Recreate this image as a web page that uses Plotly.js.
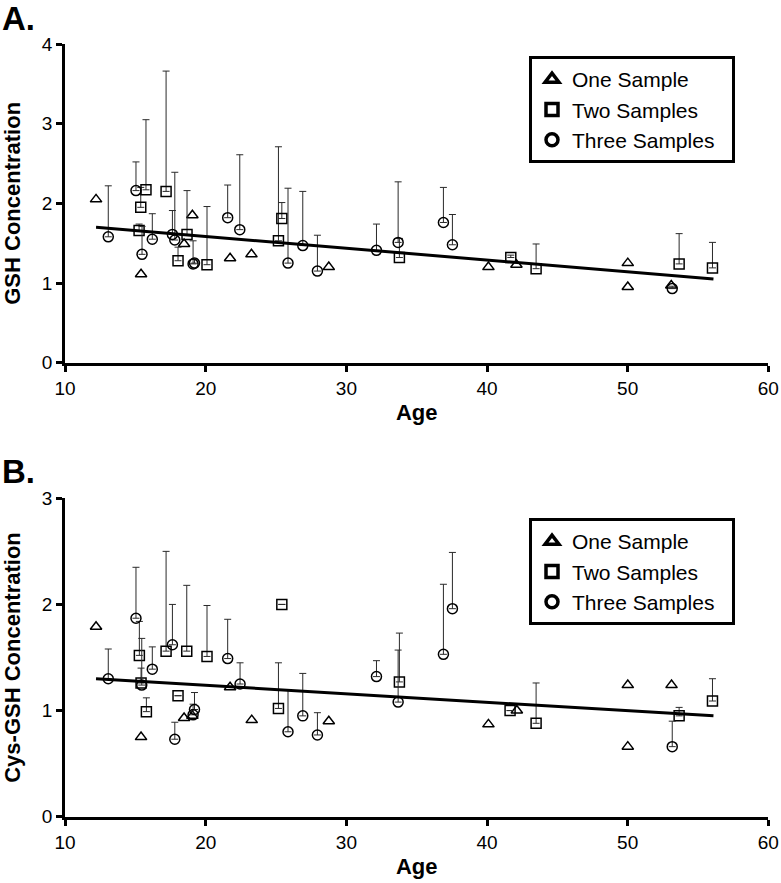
<!DOCTYPE html>
<html>
<head>
<meta charset="utf-8">
<script src="https://cdn.plot.ly/plotly-3.0.1.min.js"></script>
<style>html,body{margin:0;padding:0;background:#fff}#chart{width:781px;height:883px}</style>
</head>
<body>
<div id="chart"></div>
<script>
// ---------- Panel A: GSH concentration ----------
const gshOneAge   = [12.2, 15.4, 18.46, 19.05, 21.73, 23.25, 28.75, 40.1, 42.09, 50.01, 50.01, 53.1];
const gshOneVal   = [2.05, 1.11, 1.49, 1.85, 1.31, 1.36, 1.20, 1.20, 1.23, 1.25, 0.95, 0.97];

const gshTwoAge   = [15.26, 15.38, 15.75, 17.18, 18.03, 18.67, 20.09, 25.17, 25.41, 33.77, 41.69, 43.49, 53.66, 56.03];
const gshTwoVal   = [1.66, 1.95, 2.17, 2.15, 1.28, 1.61, 1.23, 1.53, 1.81, 1.32, 1.32, 1.18, 1.24, 1.19];
const gshTwoErr   = [0.08, 0.25, 0.88, 1.51, 0.17, 0.55, 0.73, 1.18, 0.20, 0.24, 0.03, 0.31, 0.38, 0.32];

const gshThreeAge = [13.07, 15.04, 15.47, 16.2, 17.63, 17.8, 19.1, 19.2, 21.56, 22.42, 25.85, 26.9, 27.94, 32.14, 33.68, 36.9, 37.54, 53.17];
const gshThreeVal = [1.58, 2.16, 1.36, 1.55, 1.61, 1.54, 1.24, 1.25, 1.82, 1.67, 1.25, 1.47, 1.15, 1.41, 1.51, 1.76, 1.48, 0.93];
const gshThreeErr = [0.64, 0.36, 0.35, 0.32, 0.30, 0.85, 0.29, 0.05, 0.41, 0.94, 0.94, 0.68, 0.45, 0.33, 0.76, 0.44, 0.38, 0.03];

const gshTrendAge = [12.2, 56.1];
const gshTrendVal = [1.70, 1.05];

// ---------- Panel B: Cys-GSH concentration ----------
const cysOneAge   = [12.2, 15.4, 18.46, 19.05, 21.73, 23.27, 28.75, 40.1, 42.12, 50.01, 50.01, 53.12];
const cysOneVal   = [1.79, 0.75, 0.93, 0.95, 1.22, 0.91, 0.90, 0.87, 1.00, 1.24, 0.66, 1.24];

const cysTwoAge   = [15.28, 15.4, 15.78, 17.18, 18.03, 18.65, 20.09, 25.17, 25.41, 33.77, 41.64, 43.49, 53.66, 56.03];
const cysTwoVal   = [1.52, 1.26, 0.99, 1.56, 1.14, 1.56, 1.51, 1.02, 2.00, 1.27, 1.00, 0.88, 0.95, 1.09];
const cysTwoErr   = [0.32, 0.14, 0.13, 0.94, null, 0.62, 0.48, 0.43, null, 0.46, null, 0.38, 0.08, 0.21];

const cysThreeAge = [13.07, 15.04, 15.45, 16.2, 17.63, 17.8, 19.1, 19.2, 21.56, 22.44, 25.85, 26.9, 27.94, 32.14, 33.68, 36.9, 37.54, 53.17];
const cysThreeVal = [1.30, 1.87, 1.24, 1.39, 1.62, 0.73, 0.96, 1.01, 1.49, 1.25, 0.80, 0.95, 0.77, 1.32, 1.08, 1.53, 1.96, 0.66];
const cysThreeErr = [0.28, 0.48, 0.44, 0.21, 0.38, 0.16, 0.10, 0.16, 0.37, 0.20, 0.39, 0.40, 0.21, 0.15, 0.49, 0.66, 0.53, 0.24];

const cysTrendAge = [12.2, 56.1];
const cysTrendVal = [1.30, 0.95];

const seriesNames = ['One Sample', 'Two Samples', 'Three Samples'];
const xTicks = [10, 20, 30, 40, 50, 60];
const gshTicks = [0, 1, 2, 3, 4];
const cysTicks = [0, 1, 2, 3];

// ---------- styling ----------
const FONT = 'Liberation Sans, Arial, Helvetica, sans-serif';
const errStyle = (arr) => ({
  type: 'data', symmetric: false, array: arr,
  arrayminus: arr.map(v => (v === null ? null : 0)),
  color: '#2a2a2a', thickness: 1, width: 3.5, visible: true
});
const sym = ['triangle-up-open', 'square-open', 'circle-open'];
const sizes = [10, 10, 10];

function pointTrace(x, y, err, k, xa, ya) {
  const t = {
    type: 'scatter', mode: 'markers', x: x, y: y, xaxis: xa, yaxis: ya,
    showlegend: false, hoverinfo: 'skip',
    marker: { symbol: sym[k], size: sizes[k], color: '#000', line: { width: 1.5, color: '#000' } }
  };
  if (err) t.error_y = errStyle(err);
  return t;
}
function legendTrace(k, legendId) {
  return {
    type: 'scatter', mode: 'markers', x: [null], y: [null], name: seriesNames[k] + '\u00a0\u00a0',
    legend: legendId, showlegend: true, xaxis: legendId === 'legend' ? 'x' : 'x2', yaxis: legendId === 'legend' ? 'y' : 'y2',
    marker: { symbol: sym[k], size: 12, color: '#000', line: { width: 3.5, color: '#000' } }
  };
}
function trendTrace(x, y, xa, ya) {
  return { type: 'scatter', mode: 'lines', x: x, y: y, xaxis: xa, yaxis: ya, showlegend: false,
    hoverinfo: 'skip', line: { color: '#000', width: 3 } };
}

const data = [
  pointTrace(gshOneAge, gshOneVal, null, 0, 'x', 'y'),
  pointTrace(gshTwoAge, gshTwoVal, gshTwoErr, 1, 'x', 'y'),
  pointTrace(gshThreeAge, gshThreeVal, gshThreeErr, 2, 'x', 'y'),
  trendTrace(gshTrendAge, gshTrendVal, 'x', 'y'),
  pointTrace(cysOneAge, cysOneVal, null, 0, 'x2', 'y2'),
  pointTrace(cysTwoAge, cysTwoVal, cysTwoErr, 1, 'x2', 'y2'),
  pointTrace(cysThreeAge, cysThreeVal, cysThreeErr, 2, 'x2', 'y2'),
  trendTrace(cysTrendAge, cysTrendVal, 'x2', 'y2'),
  legendTrace(0, 'legend'), legendTrace(1, 'legend'), legendTrace(2, 'legend'),
  legendTrace(0, 'legend2'), legendTrace(1, 'legend2'), legendTrace(2, 'legend2')
];

const xAxisBase = {
  range: [10, 60], tickvals: xTicks, ticks: 'outside', ticklen: 6, tickwidth: 3, tickcolor: '#000',
  showline: true, linewidth: 3, linecolor: '#000', showgrid: false, zeroline: false,
  tickfont: { family: FONT, size: 19, color: '#000' }, automargin: false,
  title: { text: '<b>Age</b>', font: { family: FONT, size: 22, color: '#000' }, standoff: 8 }
};
const yAxisBase = {
  ticks: 'outside', ticklen: 6, tickwidth: 3, tickcolor: '#000',
  showline: true, linewidth: 3, linecolor: '#000', showgrid: false, zeroline: false,
  tickfont: { family: FONT, size: 19, color: '#000' }, automargin: false
};

const legendBase = {
  xanchor: 'left', yanchor: 'top', x: 529 / 781,
  bgcolor: '#fff', bordercolor: '#000', borderwidth: 3,
  font: { family: FONT, size: 21, color: '#000' }, tracegroupgap: 0, itemwidth: 30
};

const layout = {
  width: 781, height: 883,
  margin: { l: 0, r: 0, t: 0, b: 0 },
  paper_bgcolor: '#fff', plot_bgcolor: '#fff',
  showlegend: true,
  xaxis: Object.assign({}, xAxisBase, { domain: [65.1 / 781, 768.3 / 781], anchor: 'y' }),
  yaxis: Object.assign({}, yAxisBase, { domain: [1 - 362.7 / 883, 1 - 44 / 883], anchor: 'x', range: [0, 4], tickvals: gshTicks,
    title: { text: '<b>GSH Concentration</b>', font: { family: FONT, size: 22, color: '#000' }, standoff: 16 } }),
  xaxis2: Object.assign({}, xAxisBase, { domain: [65.1 / 781, 768.3 / 781], anchor: 'y2' }),
  yaxis2: Object.assign({}, yAxisBase, { domain: [1 - 816.7 / 883, 1 - 498.3 / 883], anchor: 'x2', range: [0, 3], tickvals: cysTicks,
    title: { text: '<b>Cys-GSH Concentration</b>', font: { family: FONT, size: 22, color: '#000' }, standoff: 16 } }),
  legend: Object.assign({}, legendBase, { y: 1 - 56 / 883 }),
  legend2: Object.assign({}, legendBase, { y: 1 - 518 / 883 }),
  annotations: [
    { text: '<b>A.</b>', xref: 'paper', yref: 'paper', x: 0, y: 1 - 18 / 883, xanchor: 'left', yanchor: 'middle',
      showarrow: false, font: { family: FONT, size: 33, color: '#000' } },
    { text: '<b>B.</b>', xref: 'paper', yref: 'paper', x: 0, y: 1 - 471 / 883, xanchor: 'left', yanchor: 'middle',
      showarrow: false, font: { family: FONT, size: 33, color: '#000' } }
  ]
};

Plotly.newPlot('chart', data, layout, { displayModeBar: false, staticPlot: true });
</script>
</body>
</html>
